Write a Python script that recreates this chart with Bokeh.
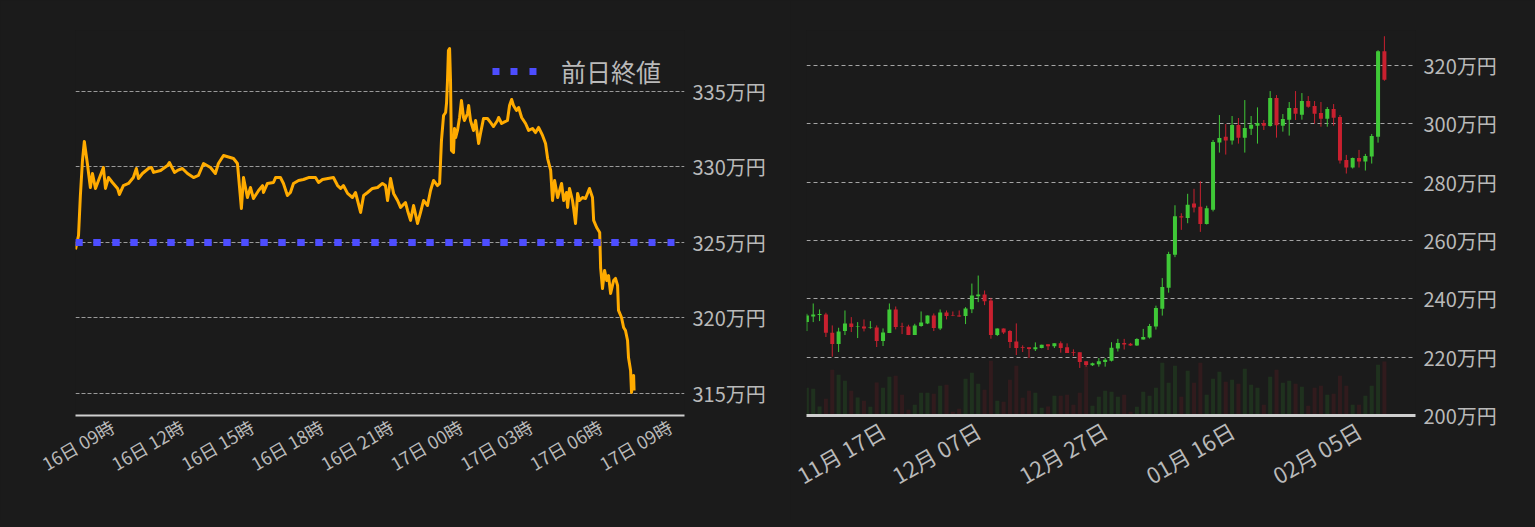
import numpy as np
from bokeh.plotting import figure
from bokeh.models import (FixedTicker, Span, Range1d, Legend, LegendItem,
                          ColumnDataSource)
from bokeh.layouts import row
from bokeh.embed import file_html
from bokeh.resources import INLINE
import math

BG = "#1b1b1b"
FONT = "Noto Sans CJK JP"
TXT = "#b9b9b9"
ORANGE = "#ffab00"
BLUE = "#4d4dff"
GREEN = "#3fc837"
RED = "#c9202f"
DOTS = "7 11 7 12"

# ---------------- left chart data (hours since 16日 00:00, price in 万円) ----------------
t_hours = [7.41, 7.54, 7.62, 7.71, 7.79, 7.92, 8.05, 8.14, 8.27, 8.40, 8.61, 8.70, 8.83,
           9.00, 9.22, 9.30, 9.47, 9.69, 9.90, 10.03, 10.12, 10.29, 10.55, 10.68, 10.77,
           11.07, 11.37, 11.45, 11.67, 11.80, 12.01, 12.23, 12.49, 12.70, 12.92, 13.22,
           13.43, 13.56, 13.78, 14.21, 14.38, 14.55, 14.64, 14.81, 14.94,
           15.07, 15.29, 15.46, 15.50, 15.67, 15.93, 16.02, 16.23, 16.36, 16.53, 16.66,
           16.79, 17.01, 17.22, 17.44, 17.74, 17.87, 18.04, 18.51, 18.69, 18.82, 18.94,
           19.12, 19.33, 19.46, 19.55, 19.68, 19.81, 19.98, 20.19, 20.41, 20.62, 20.75,
           20.84, 20.97, 21.10, 21.27, 21.40, 21.61, 21.70, 21.83, 21.96, 22.13, 22.26,
           22.39, 22.56,
           22.69, 22.82, 22.99, 23.08, 23.16, 23.25, 23.34, 23.38, 23.42, 23.46, 23.51,
           23.55, 23.59, 23.68, 23.72, 23.77, 23.85, 23.94, 24.02, 24.11, 24.15, 24.28,
           24.33, 24.41, 24.54, 24.63, 24.76, 24.84, 24.97, 25.14, 25.27, 25.40, 25.57,
           25.62, 25.75, 25.83, 26.00, 26.09, 26.18, 26.26, 26.39, 26.48, 26.61, 26.78,
           26.91, 27.08, 27.21, 27.34, 27.51, 27.64, 27.73,
           27.86, 27.94, 28.03, 28.16, 28.33, 28.42, 28.54, 28.59, 28.67, 28.80, 28.85,
           28.93, 29.02, 29.10, 29.23, 29.36, 29.53, 29.66, 29.71, 29.84, 29.97, 30.01,
           30.09, 30.18, 30.27, 30.35, 30.44, 30.57, 30.65, 30.74, 30.78, 30.91, 31.00,
           31.08, 31.17, 31.21, 31.30, 31.34, 31.43, 31.45]
price = [324.54, 325.46, 328.11, 330.43, 331.69, 330.23, 328.64, 329.57, 328.58, 329.11,
         329.97, 328.58, 329.30,
         328.97, 328.58, 328.18, 328.77, 328.91, 329.30, 329.90, 329.24, 329.57, 329.90,
         329.97, 329.64, 329.77, 330.10, 330.30, 329.64, 329.77, 329.90, 329.57, 329.30,
         329.44, 330.23, 329.97, 329.57, 330.23, 330.76, 330.56, 330.23, 327.25, 329.30,
         327.98, 328.64,
         327.91, 328.44, 328.77, 328.31, 328.91, 328.97, 329.30, 329.30, 328.91, 328.11,
         328.31, 328.91, 329.11, 329.17, 329.30, 329.30, 328.97, 329.17, 329.30, 328.77,
         328.58, 328.77, 328.25, 327.98, 328.31, 327.78, 326.99, 328.11, 328.31, 328.58,
         328.64, 328.91, 328.77, 327.78, 329.24, 328.25, 327.78, 327.32, 327.65, 327.12,
         326.46, 327.45, 326.26, 326.99, 327.78, 327.45,
         328.44, 329.11, 328.77, 328.91, 331.75, 333.41, 333.61, 334.27, 335.73, 337.72,
         337.85, 335.73, 331.09, 330.96, 332.55, 331.95, 332.42, 333.28, 334.40, 333.28,
         333.08, 333.54, 334.07, 333.08, 332.42, 333.08, 331.56, 332.22, 333.21, 333.21,
         332.95, 332.68, 333.08, 333.28, 332.88, 332.95, 333.08, 334.07, 334.47, 334.07,
         333.74, 333.94, 333.28, 332.88, 332.42, 332.55, 332.28, 332.62, 332.09, 331.56,
         330.56,
         329.77, 327.78, 329.11, 327.98, 328.91, 327.78, 328.31, 327.32, 328.58, 327.78,
         327.25, 326.26, 328.25, 327.78, 327.98, 327.91, 328.58, 327.98, 326.46, 325.99,
         325.66, 323.34, 321.95, 323.15, 322.48, 322.81, 321.62, 322.48, 322.62, 322.15,
         320.50, 320.03, 319.37, 319.17, 318.51, 317.38, 316.52, 315.07, 316.19, 315.20]
prev_close = 325.0
left_xticks = [9, 12, 15, 18, 21, 24, 27, 30, 33]
left_xlabels = ["16日 09時", "16日 12時", "16日 15時", "16日 18時", "16日 21時",
                "17日 00時", "17日 03時", "17日 06時", "17日 09時"]
left_yticks = [315, 320, 325, 330, 335]
left_ylabels = ["315万円", "320万円", "325万円", "330万円", "335万円"]
legend_label = "前日終値"

# ---------------- right chart data (daily candles, 万円) ----------------
opens = [232.02, 233.96, 234.42, 234.65, 228.38, 224.50, 228.95, 231.57, 230.32, 230.54,
         229.97, 230.20, 225.53, 228.26, 236.36, 230.54, 230.54, 227.58, 230.66, 231.57,
         234.30, 229.86, 235.33, 234.30, 234.30, 234.08, 236.47, 240.91, 241.48, 239.43,
         227.58, 229.86, 228.95, 225.41, 223.36, 223.36, 222.68, 223.13, 224.39, 223.71,
         224.73, 223.36, 221.77, 221.65, 218.58, 217.21, 217.55, 218.35,
         218.75, 222.96, 224.90, 224.56, 223.99, 226.04, 226.72, 230.48, 236.64, 243.82,
         255.10, 268.32, 267.75, 272.71, 271.60, 265.70, 270.54, 293.56, 295.61, 294.25,
         299.60, 295.27, 298.35, 299.37, 300.29, 299.26, 308.83, 299.37, 301.43, 305.41,
         303.14, 307.81, 306.10, 303.71, 301.77, 305.07, 302.34, 287.64, 285.02, 288.32,
         287.07, 288.78, 295.61, 324.90]
highs = [234.87, 238.41, 236.36, 235.22, 230.88, 230.09, 236.01, 233.73, 232.02, 232.94,
         232.37, 230.88, 229.86, 238.41, 237.38, 231.80, 231.11, 231.45, 235.67, 234.30,
         234.99, 236.36, 236.01, 235.67, 236.01, 237.15, 245.24, 247.98, 242.85, 240.34,
         229.86, 229.86, 229.29, 231.57, 224.05, 223.36, 225.07, 224.27, 224.39, 224.73,
         225.41, 224.73, 222.68, 221.65, 218.58, 218.12, 219.72, 219.72,
         225.13, 226.27, 226.27, 224.90, 226.50, 229.69, 231.40, 237.66, 247.12, 256.13,
         272.08, 269.34, 276.01, 277.72, 280.34, 271.91, 294.47, 303.02, 299.94, 302.68,
         302.00, 308.15, 302.68, 305.64, 301.31, 311.23, 309.86, 303.36, 307.47, 311.23,
         310.54, 309.52, 307.81, 307.47, 305.76, 306.78, 303.02, 289.35, 288.43, 291.06,
         289.69, 296.53, 325.24, 330.03]
lows = [228.95, 232.02, 232.37, 226.90, 220.17, 221.77, 227.58, 228.61, 226.55, 228.83,
        229.75, 223.48, 223.82, 228.26, 229.52, 227.92, 227.58, 227.58, 230.43, 231.34,
        228.95, 229.29, 232.94, 234.08, 233.85, 231.34, 235.10, 238.86, 237.84, 226.33,
        227.24, 227.92, 223.13, 220.74, 221.77, 219.72, 222.11, 223.02, 222.45, 223.13,
        221.54, 221.43, 220.40, 216.30, 216.75, 216.98, 216.75, 216.75,
        218.52, 221.94, 222.62, 223.87, 223.87, 226.04, 226.38, 229.46, 234.25, 242.11,
        254.30, 263.65, 265.93, 269.63, 262.96, 265.47, 269.97, 290.14, 289.46, 292.88,
        293.22, 290.14, 296.18, 293.22, 297.89, 299.03, 295.27, 297.32, 295.96, 301.31,
        301.43, 305.53, 300.06, 299.03, 299.03, 299.37, 286.38, 282.96, 284.67, 285.02,
        283.99, 286.38, 293.56, 314.76]
closes = [234.30, 234.65, 234.76, 228.38, 224.50, 228.83, 231.57, 230.32, 230.54, 229.86,
          230.20, 225.53, 228.49, 236.36, 230.32, 230.32, 227.58, 230.88, 231.91, 234.30,
          229.97, 235.33, 234.08, 234.08, 233.96, 236.70, 241.14, 241.48, 239.20, 227.58,
          229.86, 228.49, 225.19, 223.13, 223.13, 222.79, 223.36, 224.27, 223.71, 224.73,
          223.13, 221.43, 221.54, 218.35, 217.32, 217.89, 218.58, 219.15,
          223.19, 224.90, 224.33, 223.99, 226.27, 226.95, 230.71, 236.86, 244.05, 255.33,
          268.32, 267.86, 272.25, 271.34, 265.70, 271.05, 293.79, 295.16, 294.25, 299.60,
          295.27, 298.58, 299.72, 300.29, 299.37, 308.83, 299.49, 301.65, 305.41, 303.48,
          307.81, 305.87, 303.48, 301.77, 305.07, 302.11, 287.41, 285.02, 288.32, 287.07,
          289.00, 295.84, 324.90, 315.10]
volumes = [83, 80, 27, 50, 137, 122, 104, 74, 54, 44, 26, 99, 83, 116, 119, 62, 17, 32,
           68, 68, 65, 89, 92, 11, 20, 110, 128, 95, 77, 164, 44, 41, 107, 149, 53, 74,
           68, 23, 27, 59, 59, 62, 32, 68, 149, 29, 56, 74,
           71, 56, 62, 11, 26, 71, 59, 83, 158, 98, 149, 56, 134, 98, 158, 62, 110, 131,
           101, 107, 95, 140, 92, 83, 32, 116, 137, 98, 104, 95, 86, 29, 83, 89, 62, 65,
           119, 89, 32, 32, 59, 89, 152, 162]
right_xticks = [7, 27, 47, 67, 87]
right_xlabels = ["11月 17日", "12月 07日", "12月 27日", "01月 16日", "02月 05日"]
right_yticks = [200, 220, 240, 260, 280, 300, 320]
right_ylabels = ["200万円", "220万円", "240万円", "260万円", "280万円", "300万円", "320万円"]

assert len(t_hours) == len(price)
assert len(opens) == len(highs) == len(lows) == len(closes) == len(volumes)


def style_axes(p, xticks, xlabels, yticks, ylabels, xfont, yfont, grid_dash, grid_color,
               axis_w, xstandoff):
    xa = p.xaxis[0]
    xa.ticker = FixedTicker(ticks=xticks)
    xa.major_label_overrides = {t: l for t, l in zip(xticks, xlabels)}
    xa.major_label_orientation = math.pi / 6
    xa.major_label_text_font = FONT
    xa.major_label_text_font_size = xfont
    xa.major_label_text_color = TXT
    xa.axis_line_color = "#cfcfcf"
    xa.axis_line_width = axis_w
    xa.major_tick_line_color = None
    xa.minor_tick_line_color = None
    xa.major_tick_out = 0
    xa.major_tick_in = 0
    xa.minor_tick_out = 0
    xa.major_label_standoff = xstandoff
    ya = p.yaxis[0]
    ya.ticker = FixedTicker(ticks=yticks)
    ya.major_label_overrides = {t: l for t, l in zip(yticks, ylabels)}
    ya.major_label_text_font = FONT
    ya.major_label_text_font_size = yfont
    ya.major_label_text_color = TXT
    ya.axis_line_color = None
    ya.major_tick_line_color = None
    ya.minor_tick_line_color = None
    ya.major_tick_out = 0
    ya.major_tick_in = 0
    ya.minor_tick_out = 0
    ya.major_label_standoff = 8
    p.xgrid.visible = False
    p.ygrid.grid_line_color = grid_color
    p.ygrid.grid_line_dash = grid_dash
    p.ygrid.grid_line_width = 1


# ---------------- left figure ----------------
p1 = figure(width=790, height=520, output_backend="svg", toolbar_location=None,
            x_range=Range1d(t_hours[0], 33.62), y_range=Range1d(313.54, 339.04),
            min_border_left=75, min_border_right=106, min_border_top=30, min_border_bottom=105,
            background_fill_color=BG, border_fill_color=BG, outline_line_color=None,
            y_axis_location="right")
style_axes(p1, left_xticks, left_xlabels, left_yticks, left_ylabels,
           "18px", "20px", "4 2", "#9a9a9a", 2, 9)

p1.line(x=t_hours, y=price, line_color=ORANGE, line_width=3, line_join="round")
leg_r = p1.line(x=[t_hours[0], t_hours[-1]], y=[prev_close, prev_close],
                line_color=BLUE, line_width=7, line_dash=DOTS)
p1.add_layout(Span(location=prev_close, dimension="width", line_color=BLUE,
                   line_width=7, line_dash=DOTS))
legend = Legend(items=[LegendItem(label=legend_label, renderers=[leg_r])],
                location="top_right", margin=23, padding=14,
                glyph_width=45, glyph_height=32, label_height=32, label_standoff=24,
                label_text_font=FONT, label_text_font_size="25px", label_text_color=TXT,
                background_fill_alpha=0, border_line_color=None)
p1.add_layout(legend)

# ---------------- right figure ----------------
idx = np.arange(len(opens))
o = np.array(opens); c = np.array(closes)
up = c >= o
src = ColumnDataSource(dict(
    x=idx, open=o, close=c, high=np.array(highs), low=np.array(lows),
    top=np.maximum(o, c), bottom=np.minimum(o, c), vol=np.array(volumes),
    color=np.where(up, GREEN, RED)))

p2 = figure(width=745, height=520, output_backend="svg", toolbar_location=None,
            x_range=Range1d(-0.06, 95.9), y_range=Range1d(200, 332),
            min_border_left=16, min_border_right=120, min_border_top=30, min_border_bottom=105,
            background_fill_color=BG, border_fill_color=BG, outline_line_color=None,
            y_axis_location="right")
style_axes(p2, right_xticks, right_xlabels, right_yticks, right_ylabels,
           "22px", "20px", "4 3", "#a5a5a5", 3, 12)
p2.extra_y_ranges = {"vol": Range1d(0, max(volumes) * 7.04)}
p2.vbar(x="x", top="vol", width=0.63, fill_color="color", fill_alpha=0.13,
        line_color=None, source=src, y_range_name="vol")
p2.segment(x0="x", y0="low", x1="x", y1="high", line_color="color", line_width=1, source=src)
p2.vbar(x="x", top="top", bottom="bottom", width=0.63, fill_color="color",
        line_color=None, source=src)

layout = row(p1, p2)
html = file_html(layout, INLINE)
html = html.replace("</head>",
                    "<style>html,body{background:#1b1b1b;margin:0;padding:0;}</style></head>", 1)
open("out.html", "w").write(html)
